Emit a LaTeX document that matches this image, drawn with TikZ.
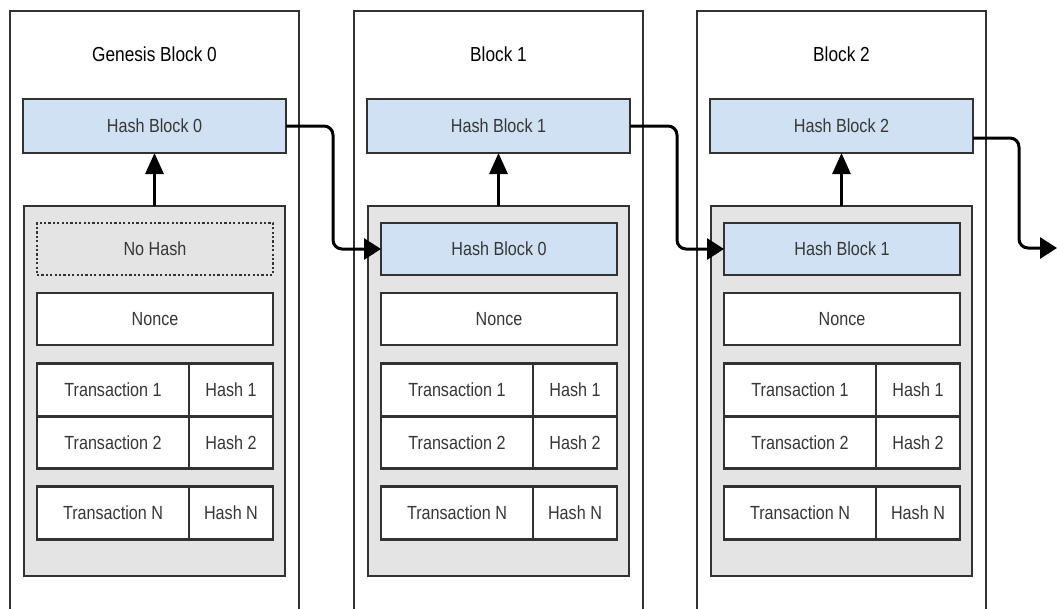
\documentclass[tikz,border=0pt]{standalone}
\usepackage{fontspec}
\setmainfont{Liberation Sans}[FakeStretch=0.85]
\usepackage{tikz}
\usetikzlibrary{arrows.meta,positioning}

\definecolor{linec}{RGB}{50,50,50}
\definecolor{textc}{RGB}{55,55,55}
\definecolor{hashblue}{RGB}{207,225,242}
\definecolor{txgray}{RGB}{228,228,228}

\begin{document}
\begin{tikzpicture}[
	x=1pt, y=-1pt,
	blockbox/.style={draw=linec, line width=2.3pt, minimum width=289pt, minimum height=601pt, outer sep=0pt},
	title/.style={font=\fontsize{20.3}{22}\selectfont, text=black},
	hashbox/.style={draw=linec, fill=hashblue, line width=2.5pt, minimum width=263pt, minimum height=54pt, outer sep=0pt, font=\fontsize{19}{21}\selectfont, text=textc},
	txbox/.style={draw=linec, fill=txgray, line width=1.5pt, minimum width=261pt, minimum height=370pt, outer sep=0pt},
	field/.style={draw=linec, fill=white, line width=2.5pt, minimum width=236pt, minimum height=52pt, outer sep=0pt, font=\fontsize{19}{21}\selectfont, text=textc},
	nohash/.style={fill=txgray, dash pattern=on 2.2pt off 2.2pt},
	cell/.style={draw=linec, fill=white, line width=2.6pt, minimum height=52.5pt, outer sep=0pt, font=\fontsize{19}{21}\selectfont, text=textc},
	txcell/.style={cell, minimum width=152pt},
	hcell/.style={cell, minimum width=84pt},
	up/.style={line width=2.8pt, -{Triangle[length=21pt,width=18pt]}},
	link/.style={line width=3pt, rounded corners=9pt, -{Triangle[length=17pt,width=21pt]}}
]
\useasboundingbox (0,0) rectangle (1057,608);

% genesis block
\node[blockbox] (blk0) at (154.5,311.5) {};
\node[title] (title0) at (154.5,54) {Genesis Block 0};
\node[hashbox] (hash0) at (154.5,126) {Hash Block 0};
\node[txbox] (tx0) at (154.5,391) {};
\node[field, nohash] (prev0) at (155,249) {No Hash};
\node[field] (nonce0) at (155,319) {Nonce};
\node[txcell] (tra0) at (113,390) {Transaction 1};
\node[hcell, right=0pt of tra0] (ha0) {Hash 1};
\node[txcell, below=0pt of tra0] (trb0) {Transaction 2};
\node[hcell, right=0pt of trb0] (hb0) {Hash 2};
\node[txcell] (trn0) at (113,513) {Transaction N};
\node[hcell, right=0pt of trn0] (hn0) {Hash N};

% block 1
\node[blockbox] (blk1) at (498.5,311.5) {};
\node[title] (title1) at (498.5,54) {Block 1};
\node[hashbox] (hash1) at (498.5,126) {Hash Block 1};
\node[txbox] (tx1) at (498.5,391) {};
\node[field, fill=hashblue] (prev1) at (499,249) {Hash Block 0};
\node[field] (nonce1) at (499,319) {Nonce};
\node[txcell] (tra1) at (457,390) {Transaction 1};
\node[hcell, right=0pt of tra1] (ha1) {Hash 1};
\node[txcell, below=0pt of tra1] (trb1) {Transaction 2};
\node[hcell, right=0pt of trb1] (hb1) {Hash 2};
\node[txcell] (trn1) at (457,513) {Transaction N};
\node[hcell, right=0pt of trn1] (hn1) {Hash N};

% block 2
\node[blockbox] (blk2) at (841.5,311.5) {};
\node[title] (title2) at (841.5,54) {Block 2};
\node[hashbox] (hash2) at (841.5,126) {Hash Block 2};
\node[txbox] (tx2) at (841.5,391) {};
\node[field, fill=hashblue] (prev2) at (842,249) {Hash Block 1};
\node[field] (nonce2) at (842,319) {Nonce};
\node[txcell] (tra2) at (800,390) {Transaction 1};
\node[hcell, right=0pt of tra2] (ha2) {Hash 1};
\node[txcell, below=0pt of tra2] (trb2) {Transaction 2};
\node[hcell, right=0pt of trb2] (hb2) {Hash 2};
\node[txcell] (trn2) at (800,513) {Transaction N};
\node[hcell, right=0pt of trn2] (hn2) {Hash N};

\coordinate (next) at (1057,248);

\draw[up] (tx0) -- (hash0);
\draw[up] (tx1) -- (hash1);
\draw[up] (tx2) -- (hash2);

\draw[link] (hash0.east) -- ++(47,0) |- (prev1.west);
\draw[link] (hash1.east) -- ++(47,0) |- (prev2.west);
\draw[link] ([yshift=-12pt]hash2.east) -- ++(46,0) |- (next);

\end{tikzpicture}
\end{document}
